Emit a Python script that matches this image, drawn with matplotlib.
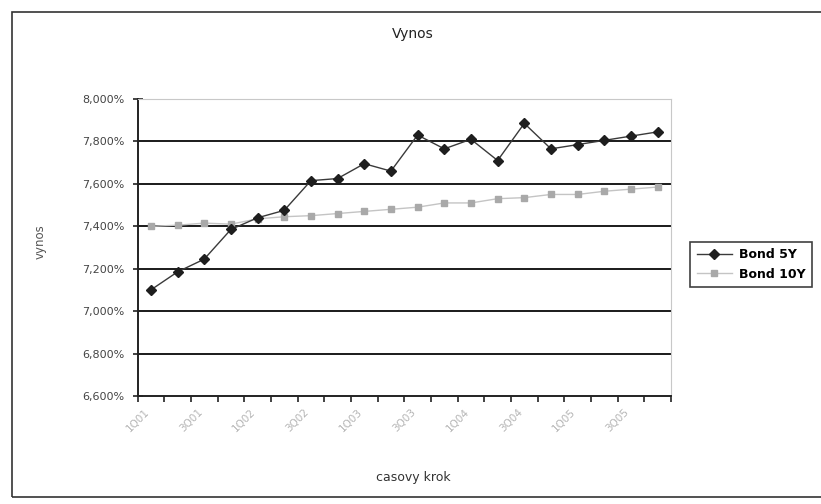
import matplotlib
matplotlib.use("Agg")
import matplotlib.pyplot as plt
from matplotlib.patches import Rectangle
from matplotlib.ticker import FuncFormatter

quarters = ["1Q01", "2Q01", "3Q01", "4Q01", "1Q02", "2Q02", "3Q02", "4Q02",
            "1Q03", "2Q03", "3Q03", "4Q03", "1Q04", "2Q04", "3Q04", "4Q04",
            "1Q05", "2Q05", "3Q05", "4Q05"]
bond_5y = [7.100, 7.185, 7.245, 7.385, 7.440, 7.475, 7.615, 7.625, 7.695, 7.660,
           7.830, 7.765, 7.810, 7.710, 7.885, 7.765, 7.785, 7.805, 7.825, 7.845]
bond_10y = [7.400, 7.405, 7.415, 7.410, 7.435, 7.445, 7.450, 7.460, 7.470, 7.480,
            7.490, 7.510, 7.510, 7.530, 7.535, 7.550, 7.550, 7.565, 7.575, 7.585]
y_ticks = [6.6, 6.8, 7.0, 7.2, 7.4, 7.6, 7.8, 8.0]

fig = plt.figure(figsize=(8.21, 5.04), dpi=100)
fig.patches.append(Rectangle((12 / 821, 7 / 504), 1.0, 485 / 504, transform=fig.transFigure,
                             fill=False, edgecolor="#333333", linewidth=1.2))

ax = fig.add_axes([0.1675, 0.2143, 0.6498, 0.5893])
x = list(range(len(quarters)))

ax.plot(x, bond_10y, color="#c4c4c4", linewidth=1, marker="s", markersize=5,
        markerfacecolor="#a9a9a9", markeredgecolor="#a9a9a9", label="Bond 10Y", zorder=3)
ax.plot(x, bond_5y, color="#3a3a3a", linewidth=1, marker="D", markersize=5.5,
        markerfacecolor="#1e1e1e", markeredgecolor="#1e1e1e", label="Bond 5Y", zorder=4)

ax.set_xlim(-0.5, len(quarters) - 0.5)
ax.set_ylim(6.6, 8.0)
ax.set_yticks(y_ticks)
ax.yaxis.set_major_formatter(FuncFormatter(lambda v, p: f"{v:.3f}".replace(".", ",") + "%"))
for v in y_ticks[1:-1]:
    ax.axhline(v, color="#1a1a1a", linewidth=1.4, zorder=1)

ax.set_xticks([i + 0.5 for i in range(-1, len(quarters))], minor=False)
ax.set_xticklabels([])
ax.set_xticks(x[::2], minor=True)
ax.set_xticklabels(quarters[::2], minor=True, rotation=45, ha="right",
                   fontsize=7.5, color="#b5b5b5")
ax.tick_params(axis="x", which="major", direction="out", length=4, width=1.2, color="#222222")
ax.tick_params(axis="x", which="minor", length=0, pad=8)
ax.tick_params(axis="y", direction="inout", length=7, width=1.2, color="#222222",
               labelsize=8, labelcolor="#444444", pad=6)

for side in ["top", "right"]:
    ax.spines[side].set_color("#c8c8c8")
    ax.spines[side].set_linewidth(0.8)
for side in ["left", "bottom"]:
    ax.spines[side].set_color("#222222")
    ax.spines[side].set_linewidth(1.4)

fig.text(413 / 821, 1 - 34 / 504, "Vynos", ha="center", va="center", fontsize=10, color="#222222")
fig.text(413 / 821, 1 - 478 / 504, "casovy krok", ha="center", va="center",
         fontsize=9, color="#333333")
fig.text(40 / 821, 1 - 242 / 504, "vynos", ha="center", va="center", rotation=90,
         fontsize=8.5, color="#555555")

handles, labels = ax.get_legend_handles_labels()
leg = fig.legend(handles[::-1], labels[::-1], loc="upper left",
                 bbox_to_anchor=(684 / 821, 1 - 236 / 504), frameon=True, fancybox=False,
                 handlelength=2.8, borderpad=0.5, labelspacing=0.5, handletextpad=0.6,
                 prop={"weight": "bold", "size": 9})
leg.get_frame().set_edgecolor("#111111")
leg.get_frame().set_linewidth(1.2)

fig.savefig("out.png", dpi=100)
